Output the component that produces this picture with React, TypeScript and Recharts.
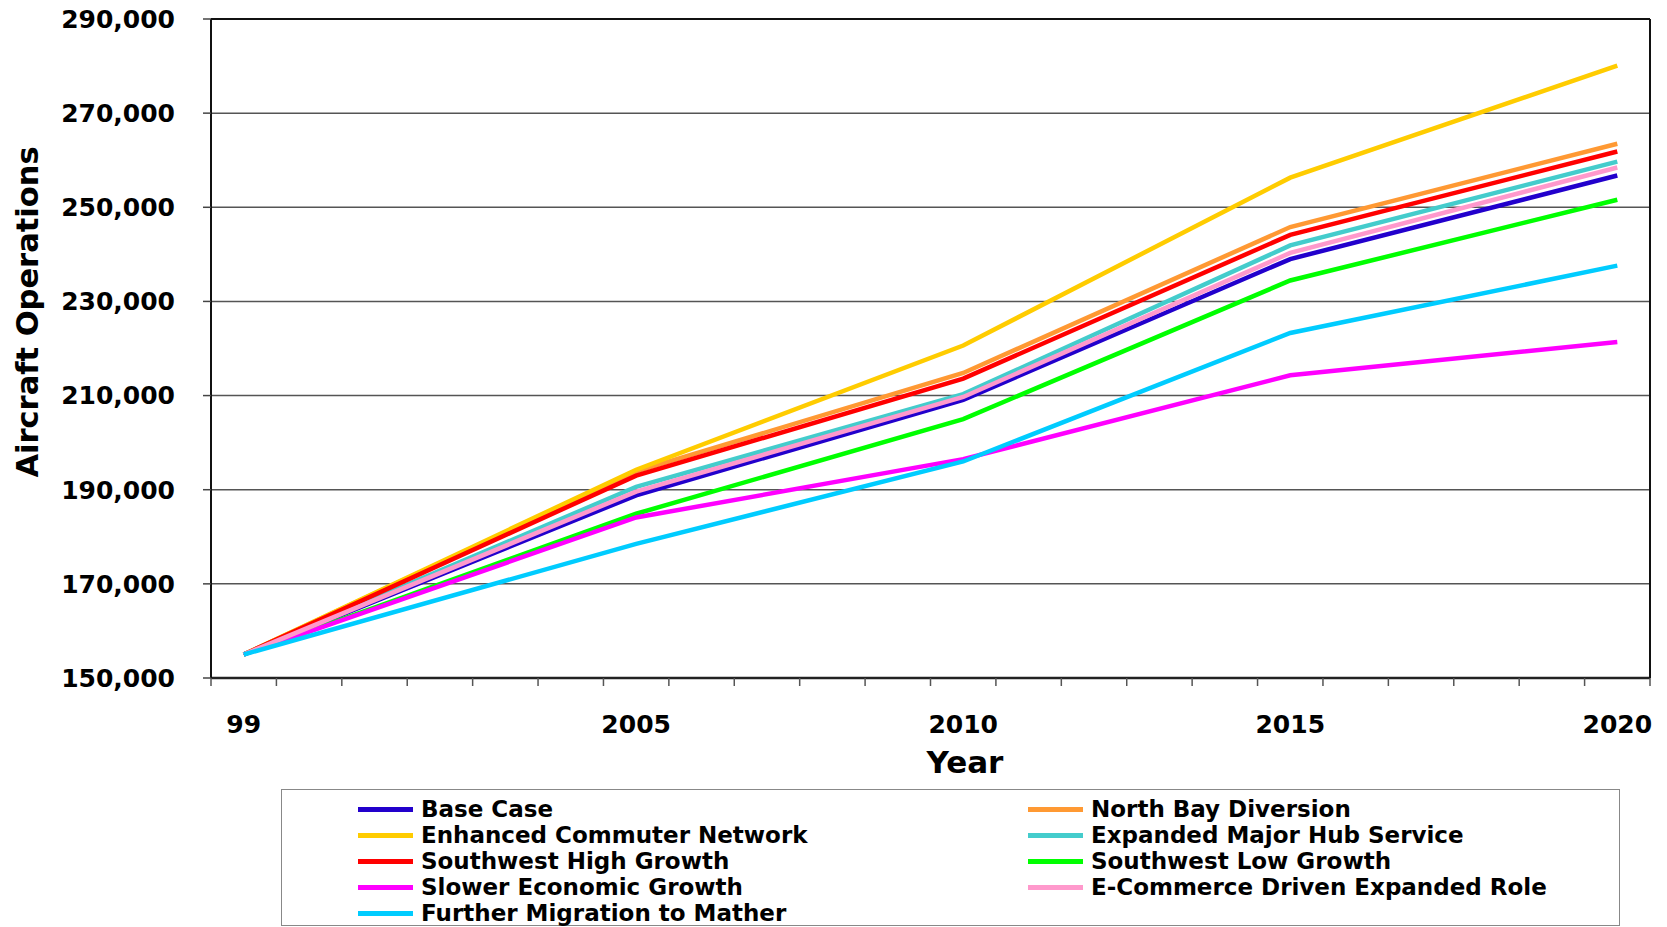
import React from 'react';
import { LineChart, Line, XAxis, YAxis, CartesianGrid, Legend, Label } from 'recharts';

// ---- data ----
const years = [1999, 2005, 2010, 2015, 2020];
const yearTickLabels = [1999, 2005, 2010, 2015, 2020];
const yTicks = [150000, 170000, 190000, 210000, 230000, 250000, 270000, 290000];
const firstYear = 1999;
const lastYear = 2020;

const baseCase = [155000, 188800, 209100, 239000, 256750];
const northBayDiversion = [155000, 193900, 214800, 245800, 263500];
const enhancedCommuter = [155000, 194240, 220640, 256300, 280100];
const expandedMajorHub = [155000, 190600, 210300, 241900, 259700];
const southwestHigh = [155000, 193000, 213600, 244150, 261850];
const southwestLow = [155000, 184900, 205000, 234450, 251600];
const slowerEconomic = [155000, 184100, 196500, 214300, 221400];
const eCommerce = [155000, 189600, 209700, 240300, 258450];
const furtherMather = [155000, 178500, 196000, 223300, 237600];

const seriesNames = [
  'Base Case',
  'North Bay Diversion',
  'Enhanced Commuter Network',
  'Expanded Major Hub Service',
  'Southwest High Growth',
  'Southwest Low Growth',
  'Slower Economic Growth',
  'E-Commerce Driven Expanded Role',
  'Further Migration to Mather',
];
const seriesKeys = ['base', 'northBay', 'enhanced', 'expandedHub', 'swHigh', 'swLow', 'slower', 'eCommerce', 'mather'];
const seriesValues = [
  baseCase,
  northBayDiversion,
  enhancedCommuter,
  expandedMajorHub,
  southwestHigh,
  southwestLow,
  slowerEconomic,
  eCommerce,
  furtherMather,
];
const seriesColors = ['#2200CC', '#FF9933', '#FFCC00', '#44CCCC', '#FF0000', '#00FF00', '#FF00FF', '#FF99CC', '#00CCFF'];

const data = years.map((y, i) => {
  const row: Record<string, number> = { year: y };
  seriesKeys.forEach((k, s) => {
    row[k] = seriesValues[s][i];
  });
  return row;
});

// tick marks at the category boundaries (Excel-style)
const boundaryTicks: number[] = [];
for (let y = firstYear - 0.5; y <= lastYear + 0.5; y += 1) boundaryTicks.push(y);
const xDomain: [number, number] = [firstYear - 0.5, lastYear + 0.5];

const FONT = '"DejaVu Sans", Arial, sans-serif';

const fmtY = (v: number) => v.toLocaleString('en-US');
const fmtX = (v: number) => (v === 1999 ? '99' : String(v));

const renderLegend = (props: any) => {
  const items = [...(props.payload || [])].sort(
    (a: any, b: any) => seriesNames.indexOf(a.value) - seriesNames.indexOf(b.value)
  );
  return (
    <div
      style={{
        boxSizing: 'border-box',
        width: 1339,
        height: 137,
        border: '1.5px solid #888',
        position: 'relative',
        fontFamily: FONT,
        fontWeight: 'bold',
        fontSize: 23,
        color: '#000',
        background: '#fff',
      }}
    >
      <div
        style={{
          position: 'absolute',
          left: 76,
          top: 6,
          display: 'grid',
          gridTemplateColumns: '670px 600px',
          gridAutoRows: '26px',
        }}
      >
        {items.map((it: any) => (
          <div key={it.value} style={{ display: 'flex', alignItems: 'center', height: 26, lineHeight: '26px', whiteSpace: 'nowrap' }}>
            <span style={{ display: 'inline-block', width: 55, height: 5, background: it.color, marginRight: 8 }} />
            <span>{it.value}</span>
          </div>
        ))}
      </div>
    </div>
  );
};

const YLabel = () => (
  <text
    x={27}
    y={312}
    transform="rotate(-90 27 312)"
    textAnchor="middle"
    dominantBaseline="central"
    fontFamily={FONT}
    fontWeight="bold"
    fontSize={30.5}
    fill="#000"
  >
    Aircraft Operations
  </text>
);

const XLabel = () => (
  <text x={965} y={762} textAnchor="middle" dominantBaseline="central" fontFamily={FONT} fontWeight="bold" fontSize={31} fill="#000">
    Year
  </text>
);

const tickStyle = { fontFamily: FONT, fontWeight: 'bold', fontSize: 25, fill: '#000' };

export default function App() {
  return (
    <div style={{ position: 'absolute', left: 0, top: 0, width: 1667, height: 927, background: '#fff' }}>
      <LineChart width={1667} height={927} data={data} margin={{ top: 18, right: 16, left: 0, bottom: 179 }}>
        <CartesianGrid vertical={false} stroke="#555" strokeWidth={1.5} />
        <XAxis
          dataKey="year"
          type="number"
          domain={xDomain}
          ticks={boundaryTicks}
          interval={0}
          allowDataOverflow
          height={10}
          tickSize={8}
          tick={() => <g />}
          axisLine={{ stroke: '#222', strokeWidth: 2.5 }}
          tickLine={{ stroke: '#555', strokeWidth: 1.5 }}
        />
        <XAxis
          xAxisId="labels"
          dataKey="year"
          type="number"
          domain={xDomain}
          ticks={yearTickLabels}
          interval={0}
          allowDataOverflow
          height={60}
          axisLine={false}
          tickLine={false}
          tickSize={0}
          tickMargin={27}
          tick={tickStyle}
          tickFormatter={fmtX}
        >
          <Label content={XLabel} />
        </XAxis>
        <XAxis
          xAxisId="top"
          orientation="top"
          dataKey="year"
          type="number"
          domain={xDomain}
          allowDataOverflow
          height={1}
          tick={false}
          tickLine={false}
          axisLine={{ stroke: '#111', strokeWidth: 2 }}
        />
        <YAxis
          domain={[150000, 290000]}
          ticks={yTicks}
          interval={0}
          allowDataOverflow
          width={211}
          tickSize={8}
          tickMargin={28}
          tick={tickStyle}
          tickFormatter={fmtY}
          axisLine={{ stroke: '#111', strokeWidth: 2 }}
          tickLine={{ stroke: '#444', strokeWidth: 1.5 }}
        >
          <Label content={YLabel} />
        </YAxis>
        <YAxis
          yAxisId="right"
          orientation="right"
          domain={[150000, 290000]}
          allowDataOverflow
          width={1}
          tick={false}
          tickLine={false}
          axisLine={{ stroke: '#111', strokeWidth: 2 }}
        />
        {seriesKeys.map((k, i) => (
          <Line
            key={k}
            type="linear"
            dataKey={k}
            name={seriesNames[i]}
            stroke={seriesColors[i]}
            strokeWidth={4.5}
            dot={false}
            isAnimationActive={false}
          />
        ))}
        <Legend
          layout="vertical"
          align="center"
          verticalAlign="middle"
          wrapperStyle={{ position: 'absolute', left: 281, top: 789, width: 1339, height: 137, margin: 0 }}
          content={renderLegend}
        />
      </LineChart>
    </div>
  );
}
